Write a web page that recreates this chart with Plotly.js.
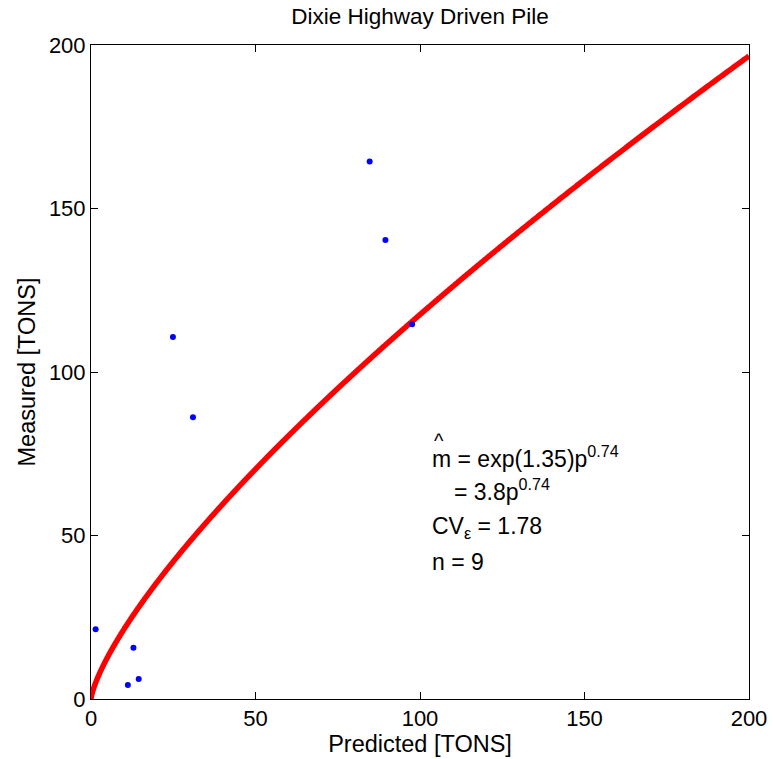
<!DOCTYPE html>
<html>
<head>
<meta charset="utf-8">
<script src="https://cdn.plot.ly/plotly-3.0.1.min.js"></script>
<style>html,body{margin:0;padding:0;background:#fff;}</style>
</head>
<body>
<div id="chart" style="width:773px;height:759px;"></div>
<script>
// Measured vs predicted data points (tons)
const predicted = [1.4, 11.2, 12.9, 14.5, 24.9, 31.0, 84.7, 89.5, 97.6];
const measured  = [21.3, 4.3, 15.7, 6.1, 110.7, 86.2, 164.4, 140.4, 114.6];

// Fitted model m = exp(a) * p^b (unrounded estimates of the printed 1.35 / 0.74)
const fitA = 1.35;
const fitB = 0.742;
const fitP = [];
for (let i = 0; i <= 2000; i++) fitP.push(i / 10);
const fitM = fitP.map(p => Math.exp(fitA) * Math.pow(p, fitB));

const tickVals = [0, 50, 100, 150, 200];
const tickText = ['0', '50', '100', '150', '200'];

const font = 'Liberation Sans, Arial, sans-serif';

const traces = [
  {x: fitP, y: fitM, mode: 'lines', line: {color: '#ff0000', width: 5.5, simplify: false}, hoverinfo: 'skip'},
  {x: predicted, y: measured, mode: 'markers', marker: {color: '#0000ff', size: 6}}
];

const axisCommon = {
  range: [0, 200], tickvals: tickVals, ticktext: tickText,
  ticks: 'inside', ticklen: 7, tickcolor: '#000', tickwidth: 1,
  showline: true, linecolor: '#000', linewidth: 1, mirror: 'allticks',
  showgrid: false, zeroline: false,
  tickfont: {family: font, size: 22, color: '#000'}
};

const layout = {
  width: 773, height: 759,
  margin: {l: 91, r: 24, t: 45, b: 60},
  paper_bgcolor: '#fff', plot_bgcolor: '#fff',
  showlegend: false,
  title: {text: 'Dixie Highway Driven Pile', font: {family: font, size: 22.5, color: '#000'}, xref: 'paper', x: 0.5, xanchor: 'center', yref: 'container', y: 0.979, yanchor: 'middle'},
  xaxis: Object.assign({}, axisCommon, {title: {text: 'Predicted [TONS]', font: {family: font, size: 23.5, color: '#000'}, standoff: 3}}),
  yaxis: Object.assign({}, axisCommon, {title: {text: 'Measured [TONS]', font: {family: font, size: 23.5, color: '#000'}, standoff: 6}}),
  annotations: [
    {x: 103, y: 74.0, xref: 'x', yref: 'y', xanchor: 'left', yanchor: 'middle', showarrow: false,
     text: 'm = exp(1.35)p<sup>0.74</sup>', font: {family: font, size: 23, color: '#000'}},
    {x: 103.6, y: 78.8, xref: 'x', yref: 'y', xanchor: 'left', yanchor: 'middle', showarrow: false,
     text: '^', font: {family: font, size: 20, color: '#000'}},
    {x: 109.6, y: 64.0, xref: 'x', yref: 'y', xanchor: 'left', yanchor: 'middle', showarrow: false,
     text: '= 3.8p<sup>0.74</sup>', font: {family: font, size: 23, color: '#000'}},
    {x: 103, y: 52.6, xref: 'x', yref: 'y', xanchor: 'left', yanchor: 'middle', showarrow: false,
     text: 'CV<sub>ε</sub> = 1.78', font: {family: font, size: 23, color: '#000'}},
    {x: 103, y: 42, xref: 'x', yref: 'y', xanchor: 'left', yanchor: 'middle', showarrow: false,
     text: 'n = 9', font: {family: font, size: 23, color: '#000'}}
  ]
};

Plotly.newPlot('chart', traces, layout, {displayModeBar: false, staticPlot: true});
</script>
</body>
</html>
